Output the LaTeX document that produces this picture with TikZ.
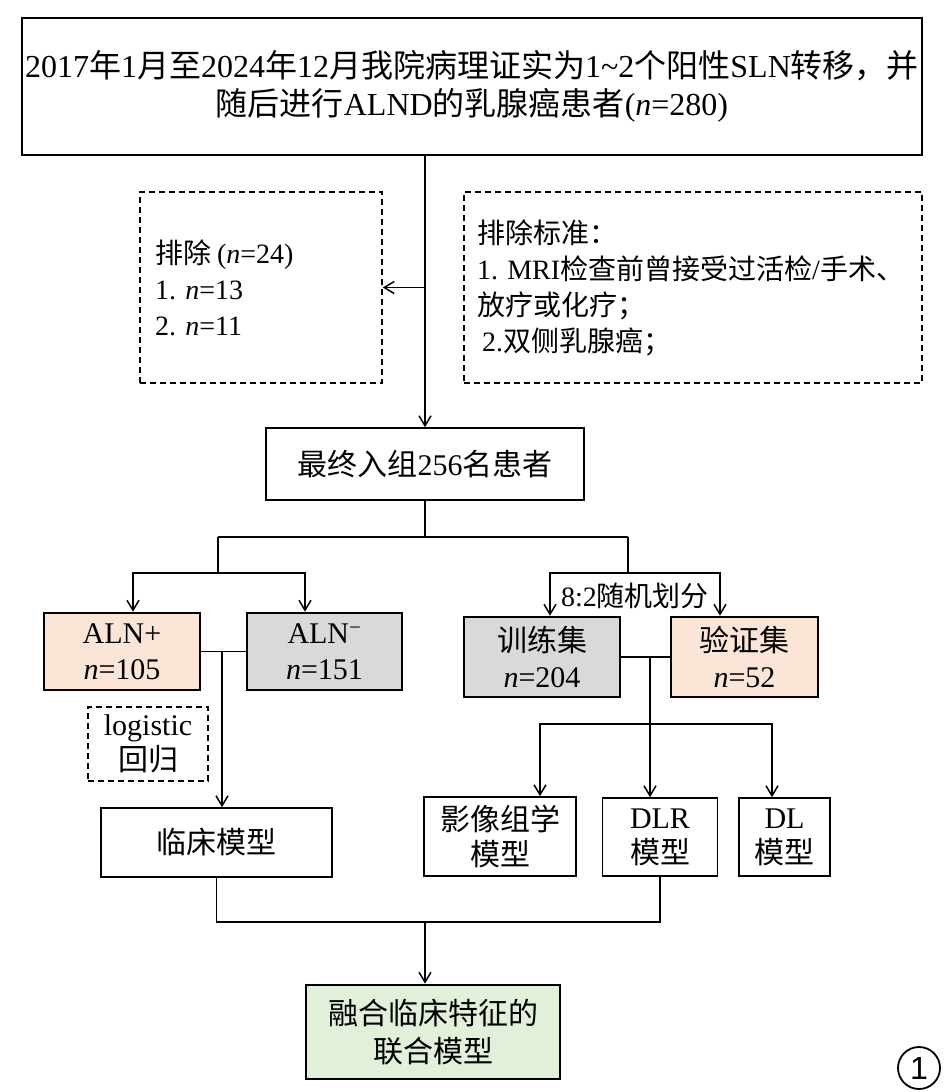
\documentclass[tikz,border=0pt]{standalone}
\usepackage{fontspec}
\setmainfont{Liberation Serif}
\newfontfamily\cjkfont{Noto Sans CJK SC}
\newfontfamily\labelfont{Liberation Sans}
\newcommand{\zh}[1]{{\cjkfont #1}}
\usepackage{tikz}
\usetikzlibrary{arrows.meta}
\usetikzlibrary{calc}
\definecolor{peach}{HTML}{FBE5D6}
\definecolor{greybox}{HTML}{D9D9D9}
\definecolor{sage}{HTML}{E2F0D9}
\frenchspacing

\begin{document}
\begin{tikzpicture}[x=1pt,y=-1pt,line width=1.5pt,>={Straight Barb[length=10pt,width=12pt]}]
\tikzstyle{box}=[draw,line width=1.6pt,align=center,inner sep=0pt,font=\fontsize{30}{36}\selectfont]
\tikzstyle{thickbox}=[box,line width=2.6pt]
\tikzstyle{dbox}=[draw,line width=1.5pt,dash pattern=on 6pt off 4pt,inner ysep=0pt,align=left,font=\fontsize{28}{36}\selectfont]
\useasboundingbox (0,0) rectangle (945,1092);
\node [box, minimum width=900pt, minimum height=137pt, font=\fontsize{32}{38}\selectfont] (title) at (472,86.5)
  {2017\zh{年}1\zh{月至}2024\zh{年}12\zh{月我院病理证实为}1\textasciitilde2\zh{个阳性}SLN\zh{转移，并}\\
   \zh{随后进行}ALND\zh{的乳腺癌患者}(\textit{n}=280)};
\node [dbox, text width=212pt, inner xsep=15pt, minimum height=191pt] (excl) at (261,287.5)
  {\zh{排除}\hspace{6pt}(\textit{n}=24)\\1. \textit{n}=13\\2. \textit{n}=11};
\node [dbox, text width=432pt, inner xsep=13pt, minimum height=191pt] (crit) at (693,287.5)
  {\zh{排除标准：}\\1. MRI\zh{检查前曾接受过活检}/\zh{手术、}\\\zh{放疗或化疗；}\\\hspace*{5pt}2.\zh{双侧乳腺癌；}};
\node [box, minimum width=318pt, minimum height=72pt] (final) at (425,464) {\zh{最终入组}256\zh{名患者}};
\node [thickbox, fill=peach, minimum width=156pt, minimum height=77pt] (alnp) at (122,651.5) {ALN+\\\textit{n}=105};
\node [thickbox, fill=greybox, minimum width=155pt, minimum height=77pt] (alnn) at (324.5,651.5) {ALN\textsuperscript{−}\\\textit{n}=151};
\node [thickbox, fill=greybox, minimum width=156pt, minimum height=80pt] (train) at (542,657) {\zh{训练集}\\\textit{n}=204};
\node [thickbox, fill=peach, minimum width=147pt, minimum height=80pt] (valid) at (744.5,657) {\zh{验证集}\\\textit{n}=52};
\node [font=\fontsize{28}{34}\selectfont, inner sep=0pt] (ratio) at (635,596) {8:2\zh{随机划分}};
\node [dbox, align=center, inner xsep=0pt, minimum width=120pt, minimum height=74pt, font=\fontsize{30}{35}\selectfont] (lr) at (148,744) {logistic\\\zh{回归}};
\node [box, minimum width=231pt, minimum height=69pt] (clin) at (216.5,842.5) {\zh{临床模型}};
\node [box, minimum width=152pt, minimum height=79pt, font=\fontsize{30}{35}\selectfont] (rad) at (500,836.5) {\zh{影像组学}\\\zh{模型}};
\node [box, minimum width=115pt, minimum height=78pt, font=\fontsize{30}{35}\selectfont] (dlr) at (660,837) {DLR\\\zh{模型}};
\node [box, minimum width=91pt, minimum height=78pt, font=\fontsize{30}{35}\selectfont] (dl) at (784.5,837) {DL\\\zh{模型}};
\node [thickbox, fill=sage, minimum width=254pt, minimum height=94pt, font=\fontsize{30}{38}\selectfont] (fusion) at (433,1032) {\zh{融合临床特征的}\\\zh{联合模型}};
\node [draw, circle, line width=1.8pt, minimum size=42pt, inner sep=0pt, font=\labelfont\fontsize{32}{32}\selectfont] (figno) at (919,1068) {1};
\draw [->] (title.south -| final.north) -- (final.north);
\draw [->] (excl.east -| final.north) -- (excl.east);
\coordinate (jl) at (218,537);
\coordinate (jr) at (628,537);
\coordinate (sl) at (218,573);
\coordinate (sr) at (628,573);
\coordinate (sl1) at (133,573);
\coordinate (sl2) at (305,573);
\coordinate (sr1) at (550,573);
\coordinate (sr2) at (720,573);
\draw (final.south) -- (final.south |- jl);
\draw (jl) -- (jr);
\draw (jl) -- (sl);
\draw (jr) -- (sr);
\draw [<->] (sl1 |- alnp.north) -- (sl1) -- (sl2) -- (sl2 |- alnn.north);
\draw [<->] (sr1 |- train.north) -- (sr1) -- (sr2) -- (sr2 |- valid.north);
\draw (alnp.east) -- (alnn.west);
\coordinate (cl) at (222,651.5);
\draw [->] (cl) -- (cl |- clin.north);
\draw (train.east) -- (valid.west);
\coordinate (tv) at (650,657);
\draw [->] (tv) -- (tv |- dlr.north);
\coordinate (m1) at (540,724);
\coordinate (m2) at (772,724);
\draw [<->] (m1 |- rad.north) -- (m1) -- (m2) -- (m2 |- dl.north);
\coordinate (b1) at (216,922);
\coordinate (b0) at (425,922);
\draw (clin.south) -- (clin.south |- b1) -- (dlr.south |- b1) -- (dlr.south);
\draw [->] (b0) -- (b0 |- fusion.north);
\end{tikzpicture}
\end{document}
